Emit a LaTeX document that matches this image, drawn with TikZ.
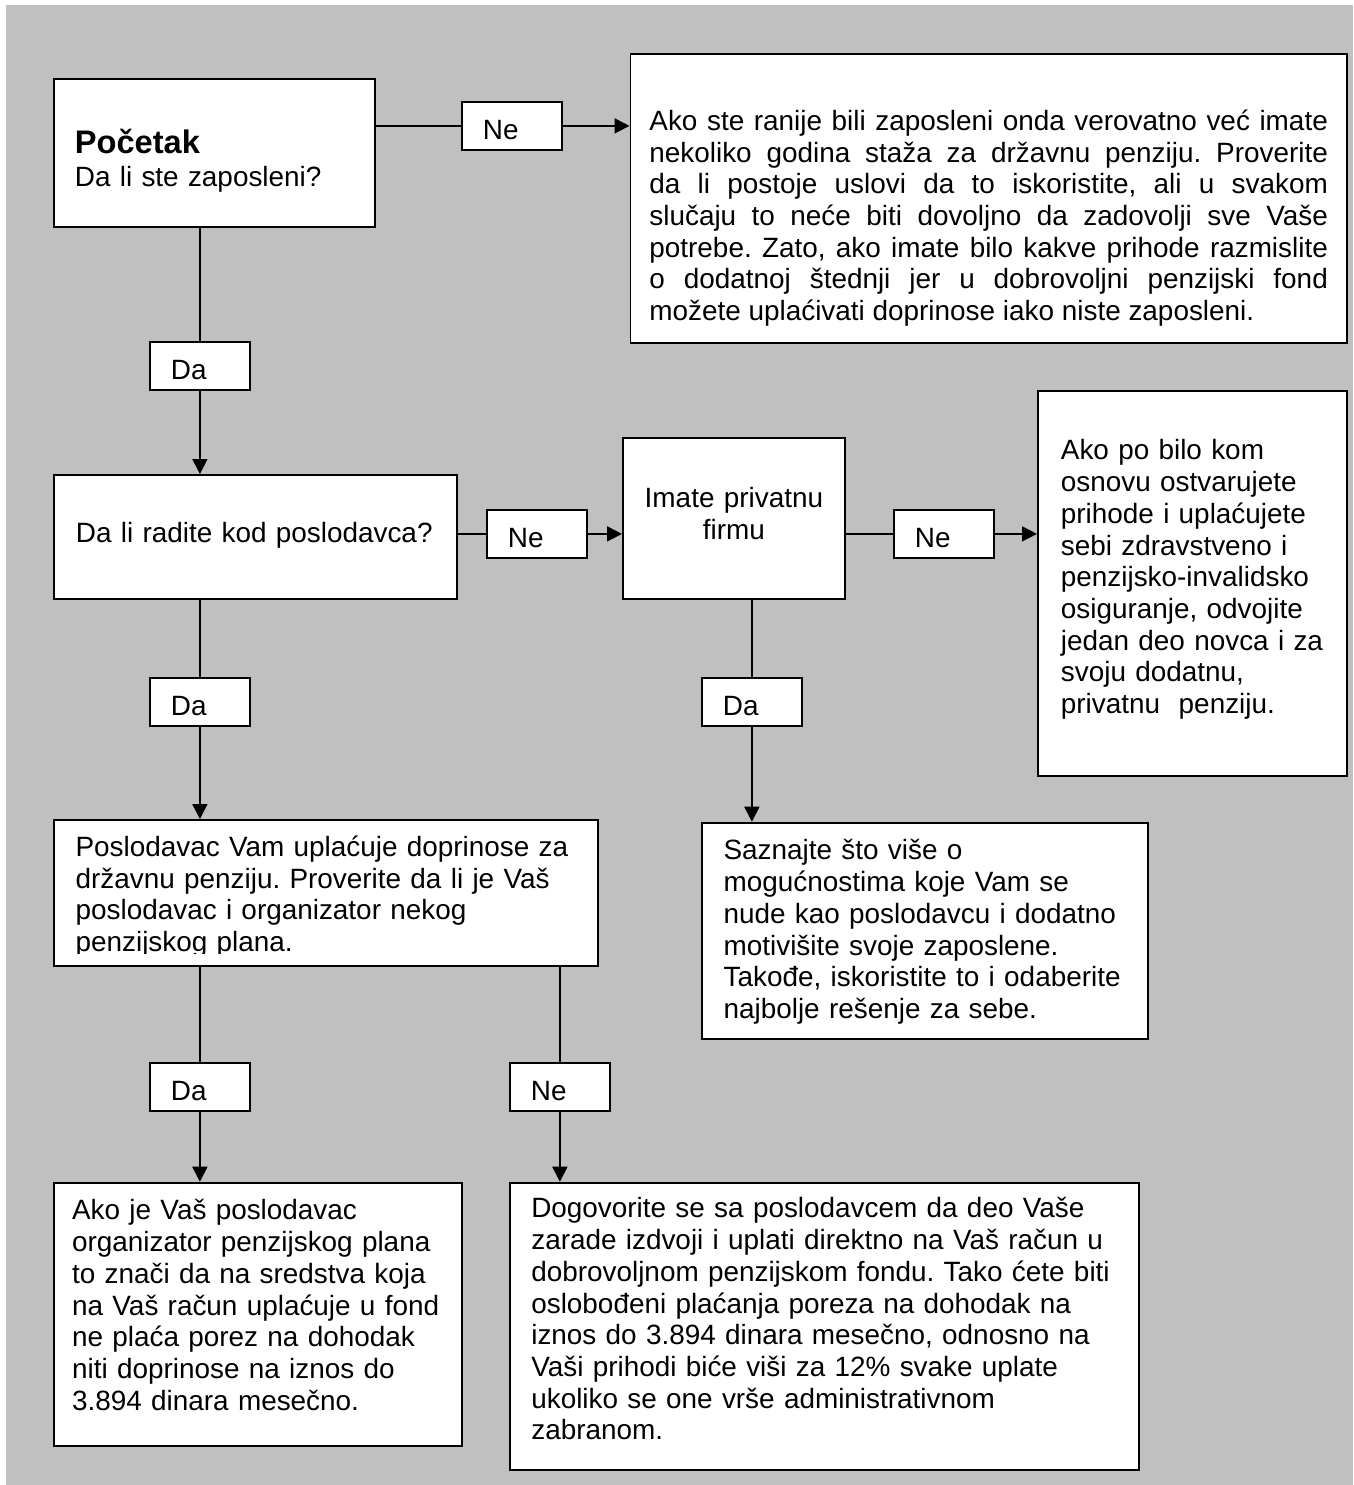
\documentclass[tikz,border=0pt]{standalone}
\usepackage{fontspec}
\setmainfont{Liberation Sans}
\usepackage{tikz}
\usetikzlibrary{arrows.meta,positioning,calc}
\definecolor{panel}{HTML}{C0C0C0}
\newcommand{\txt}{\fontsize{27.9}{31.7}\selectfont}
\newcommand{\head}{\fontsize{32.6}{35}\selectfont\bfseries}
\tolerance=9999
\frenchspacing

\begin{document}
\begin{tikzpicture}[x=1pt, y=-1pt,
    box/.style={rectangle, draw=black, fill=white, line width=1.8pt,
                anchor=north west, inner ysep=0pt, align=left, font=\txt},
    tag/.style={box, text width=58pt, inner xsep=21pt,
                text height=37.5pt, text depth=10.5pt},
    line/.style={line width=1.7pt},
    arrow/.style={line, -{Triangle[length=15pt,width=15pt]}},
]
\useasboundingbox (0,0) rectangle (1353,1485);
\fill[panel] (6,5) rectangle (1353,1485);

% first question
\node[box, text width=279pt, inner xsep=21pt, text height=74.7pt, text depth=73.3pt]
    (start) at (53,78) {{\head Početak}\\[1.5pt]Da li ste zaposleni?};
\node[tag] (ne1) at (461,101) {Ne};
\node[box, align=justify, text width=678.5pt, inner xsep=19pt, text height=76.5pt, text depth=212.5pt]
    (ranije) at (629.5,53) {Ako ste ranije bili zaposleni onda verovatno već imate\linebreak
    nekoliko godina staža za državnu penziju. Proverite\linebreak
    da li postoje uslovi da to iskoristite, ali u svakom\linebreak
    slučaju to neće biti dovoljno da zadovolji sve Vaše\linebreak
    potrebe. Zato, ako imate bilo kakve prihode razmislite\linebreak
    o dodatnoj štednji jer u dobrovoljni penzijski fond\linebreak
    možete uplaćivati doprinose iako niste zaposleni.};
\node[tag] (da1) at (149,341) {Da};

% second row
\node[box, text width=359pt, inner xsep=22pt, text height=68pt, text depth=56pt]
    (radite) at (53,474) {Da li radite kod poslodavca?};
\node[tag] (ne2) at (486,509) {Ne};
\node[box, align=center, text width=202pt, inner xsep=10pt, text height=69.7pt, text depth=91.3pt]
    (firma) at (622,437) {Imate privatnu\\firmu};
\node[tag] (ne3) at (893,509) {Ne};
\node[box, text width=263pt, inner xsep=23pt, text height=69pt, text depth=316pt]
    (prihodi) at (1037,390) {Ako po bilo kom\\osnovu ostvarujete\\prihode i uplaćujete\\
    sebi zdravstveno i\\penzijsko-invalidsko\\osiguranje, odvojite\\jedan deo novca i za\\
    svoju dodatnu,\\privatnu\ \ penziju.};
\node[tag] (da2) at (149,677) {Da};
\node[tag] (da3) at (701,677) {Da};

% third row
\node[box, text width=501pt, inner xsep=21.7pt, text height=36.5pt, text depth=109.5pt]
    (uplata) at (53,819) {Poslodavac Vam uplaćuje doprinose za\\državnu penziju. Proverite da li je Vaš\\
    poslodavac i organizator nekog\\penzijskog plana.};
\fill[white] ($(uplata.south west)+(2,-2)$) rectangle ($(uplata.south east)+(-2,-12.8)$);
\node[box, text width=402.6pt, inner xsep=21.7pt, text height=37.3pt, text depth=178.7pt]
    (saznajte) at (701,821.7) {Saznajte što više o\\mogućnostima koje Vam se\\nude kao poslodavcu i dodatno\\
    motivišite svoje zaposlene.\\Takođe, iskoristite to i odaberite\\najbolje rešenje za sebe.};
\node[tag] (da4) at (149,1062) {Da};
\node[tag] (ne4) at (509,1062) {Ne};

% last row
\node[box, text width=372pt, inner xsep=18.2pt, text height=37.3pt, text depth=226pt]
    (plan) at (53,1181.7) {Ako je Vaš poslodavac\\organizator penzijskog plana\\to znači da na sredstva koja\\
    na Vaš račun uplaćuje u fond\\ne plaća porez na dohodak\\niti doprinose na iznos do\\3.894 dinara mesečno.};
\node[box, text width=587pt, inner xsep=21pt, text height=35.3pt, text depth=252pt]
    (dogovor) at (509.4,1181.7) {Dogovorite se sa poslodavcem da deo Vaše\\zarade izdvoji i uplati direktno na Vaš račun u\\
    dobrovoljnom penzijskom fondu. Tako ćete biti\\oslobođeni plaćanja poreza na dohodak na\\
    iznos do 3.894 dinara mesečno, odnosno na\\Vaši prihodi biće viši za 12\% svake uplate\\
    ukoliko se one vrše administrativnom\\zabranom.};

\draw[line] (ne1.west -| start.east) -- (ne1.west);
\draw[arrow] (ne1.east) -- (ne1.east -| ranije.west);
\draw[line] (start.south -| da1.north) -- (da1.north);
\draw[arrow] (da1.south) -- (da1.south |- radite.north);
\draw[line] (ne2.west -| radite.east) -- (ne2.west);
\draw[arrow] (ne2.east) -- (ne2.east -| firma.west);
\draw[line] (ne3.west -| firma.east) -- (ne3.west);
\draw[arrow] (ne3.east) -- (ne3.east -| prihodi.west);
\draw[line] (radite.south -| da2.north) -- (da2.north);
\draw[arrow] (da2.south) -- (da2.south |- uplata.north);
\draw[line] (firma.south -| da3.north) -- (da3.north);
\draw[arrow] (da3.south) -- (da3.south |- saznajte.north);
\draw[line] (uplata.south -| da4.north) -- (da4.north);
\draw[arrow] (da4.south) -- (da4.south |- plan.north);
\draw[line] (uplata.south -| ne4.north) -- (ne4.north);
\draw[arrow] (ne4.south) -- (ne4.south |- dogovor.north);

\end{tikzpicture}
\end{document}
